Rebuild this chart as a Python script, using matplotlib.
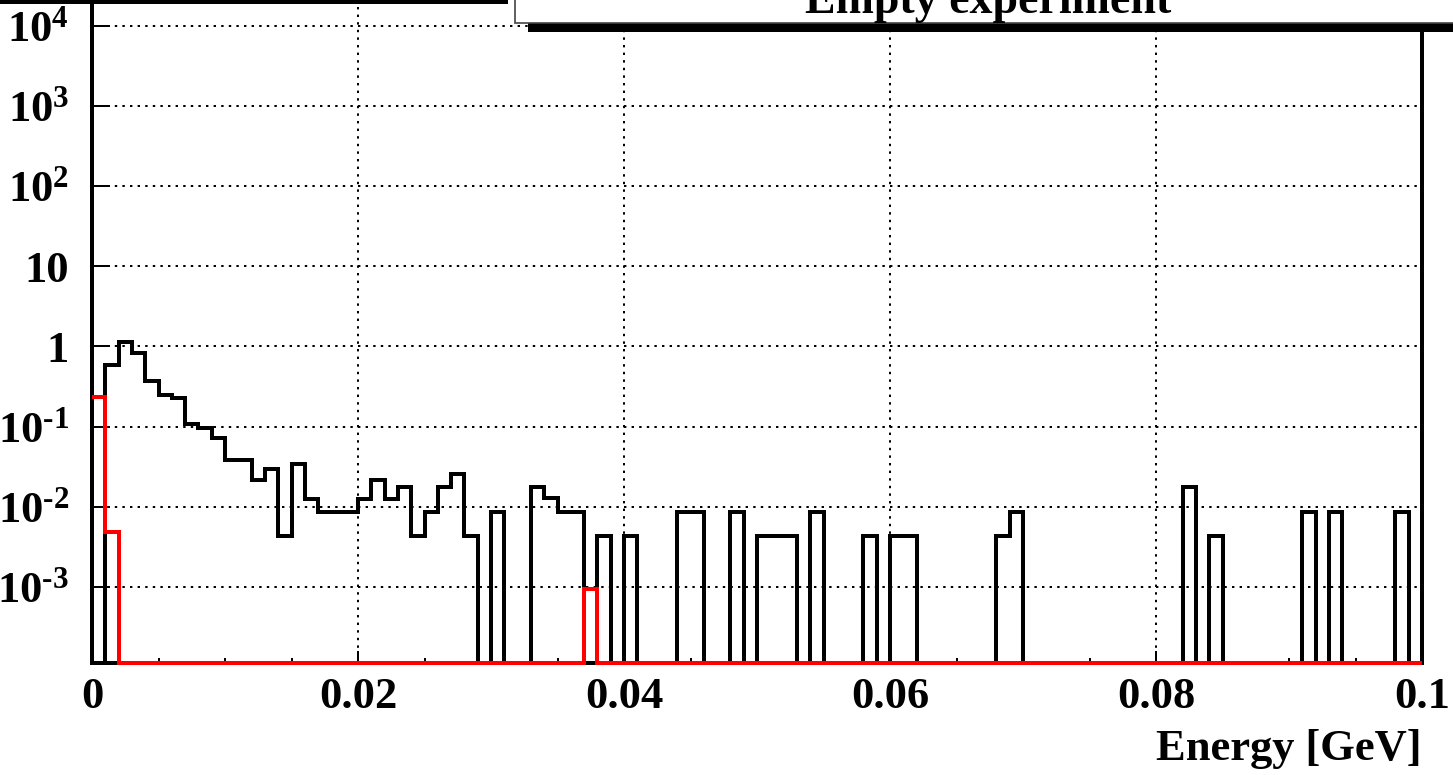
import numpy as np
import matplotlib
matplotlib.use("Agg")
import matplotlib.pyplot as plt
from matplotlib.patches import Rectangle
from matplotlib.ticker import FixedLocator, FixedFormatter, LogLocator, MultipleLocator, NullFormatter

# histogram content, 100 bins of 1 MeV between 0 and 0.1 GeV
x_min = 0.0
x_max = 0.1
n_bins = 100

all_hits = [
    0, 0.59, 1.15, 0.83, 0.37, 0.25, 0.23, 0.108, 0.095, 0.0715,
    0.038, 0.038, 0.0216, 0.030, 0.0043, 0.034, 0.0127, 0.0087, 0.0087, 0.0087,
    0.0127, 0.0216, 0.0127, 0.0175, 0.0043, 0.0087, 0.0175, 0.026, 0.0043, 0,
    0.0087, 0, 0, 0.0175, 0.013, 0.0087, 0.0087, 0, 0.0043, 0,
    0.0043, 0, 0, 0, 0.0087, 0.0087, 0, 0, 0.0087, 0,
    0.0043, 0.0043, 0.0043, 0, 0.0087, 0, 0, 0, 0.0043, 0,
    0.0043, 0.0043, 0, 0, 0, 0, 0, 0, 0.0043, 0.0087,
    0, 0, 0, 0, 0, 0, 0, 0, 0, 0,
    0, 0, 0.0175, 0, 0.0043, 0, 0, 0, 0, 0,
    0, 0.0087, 0, 0.0087, 0, 0, 0, 0, 0.0087, 0,
]

selected_hits = [0.0] * n_bins
selected_hits[0] = 0.233
selected_hits[1] = 0.0049
selected_hits[37] = 0.00095

y_ticks = [1e-3, 1e-2, 1e-1, 1, 10, 1e2, 1e3, 1e4]
y_tick_labels = [r"$10^{\text{-}3}$", r"$10^{\text{-}2}$", r"$10^{\text{-}1}$",
                 "1", "10", "$10^{2}$", "$10^{3}$", "$10^{4}$"]
x_ticks = [0, 0.02, 0.04, 0.06, 0.08, 0.1]
x_tick_labels = ["0", "0.02", "0.04", "0.06", "0.08", "0.1"]

title = "Empty experiment"
x_title = "Energy [GeV]"

W, H = 1453, 775
PX = 0.72  # points per pixel at dpi 100

plt.rcParams["font.family"] = ["Liberation Serif", "DejaVu Serif"]
plt.rcParams["font.weight"] = "bold"
plt.rcParams["mathtext.fontset"] = "custom"
plt.rcParams["mathtext.rm"] = "Liberation Serif:bold"
plt.rcParams["mathtext.it"] = "Liberation Serif:bold:italic"
plt.rcParams["mathtext.bf"] = "Liberation Serif:bold"

fig = plt.figure(figsize=(W / 100, H / 100), dpi=100)
ax = fig.add_axes([92 / W, (H - 662.5) / H, (1422 - 92) / W, 662.5 / H])

y_lo, y_hi = 10 ** -3.94, 10 ** 4.32
ax.set_xlim(x_min, x_max)
ax.set_yscale("log")
ax.set_ylim(y_lo, y_hi)

edges = np.linspace(x_min, x_max, n_bins + 1)
# empty bins are drawn on the frame bottom, like ROOT does
black = np.maximum(np.array(all_hits), y_lo)
red = np.maximum(np.array(selected_hits), y_lo)
ax.stairs(black, edges, baseline=None, color="black", linewidth=4 * PX,
          clip_on=False, zorder=3)
ax.stairs(red, edges, baseline=None, color="red", linewidth=4 * PX,
          clip_on=False, zorder=4)

# axes, ticks and grid
ax.xaxis.set_major_locator(FixedLocator(x_ticks))
ax.xaxis.set_major_formatter(FixedFormatter(x_tick_labels))
ax.xaxis.set_minor_locator(MultipleLocator(0.005))
ax.yaxis.set_major_locator(FixedLocator(y_ticks))
ax.yaxis.set_major_formatter(FixedFormatter(y_tick_labels))
ax.yaxis.set_minor_locator(LogLocator(base=10, subs=np.arange(2, 10)))
ax.yaxis.set_minor_formatter(NullFormatter())

ax.tick_params(axis="x", which="major", direction="in", length=12 * PX,
               width=2 * PX, pad=15 * PX, labelsize=32, top=False)
ax.tick_params(axis="x", which="minor", direction="in", length=5 * PX,
               width=2 * PX, top=False)
ax.tick_params(axis="y", which="major", direction="in", length=18 * PX,
               width=2 * PX, pad=23 * PX, labelsize=32, right=False)
ax.tick_params(axis="y", which="minor", direction="in", length=10 * PX,
               width=2 * PX, right=False)

ax.grid(True, which="major", color="black", linewidth=2 * PX,
        linestyle=(0, (1.2, 2.6)))
ax.set_axisbelow(True)

for side in ["left", "bottom", "right"]:
    ax.spines[side].set_linewidth(4 * PX)
ax.spines["top"].set_visible(False)

fig.text(1422 / W, 15 / H, x_title, ha="right", va="baseline",
         fontsize=32, fontweight="bold")


def fig_rect(x0, y0, x1, y1, **kw):
    # rectangle given in picture pixels (y measured from the top)
    return Rectangle((x0 / W, 1 - y1 / H), (x1 - x0) / W, (y1 - y0) / H,
                     transform=fig.transFigure, **kw)


# shadow of a box above the picture
fig.add_artist(fig_rect(0, -5, 508, 3.5, facecolor="black",
                        edgecolor="none", zorder=10))
# title box with its shadow
fig.add_artist(fig_rect(528, 12, 1470, 32, facecolor="black",
                        edgecolor="none", zorder=10))
fig.add_artist(fig_rect(515, -10, 1470, 22.5, facecolor="white",
                        edgecolor="#444444", linewidth=1.2, zorder=11))
fig.text(988 / W, 1 - 13 / H, title, ha="center", va="baseline",
         fontsize=33, fontweight="bold", zorder=12)

fig.savefig("out.png", dpi=100)
